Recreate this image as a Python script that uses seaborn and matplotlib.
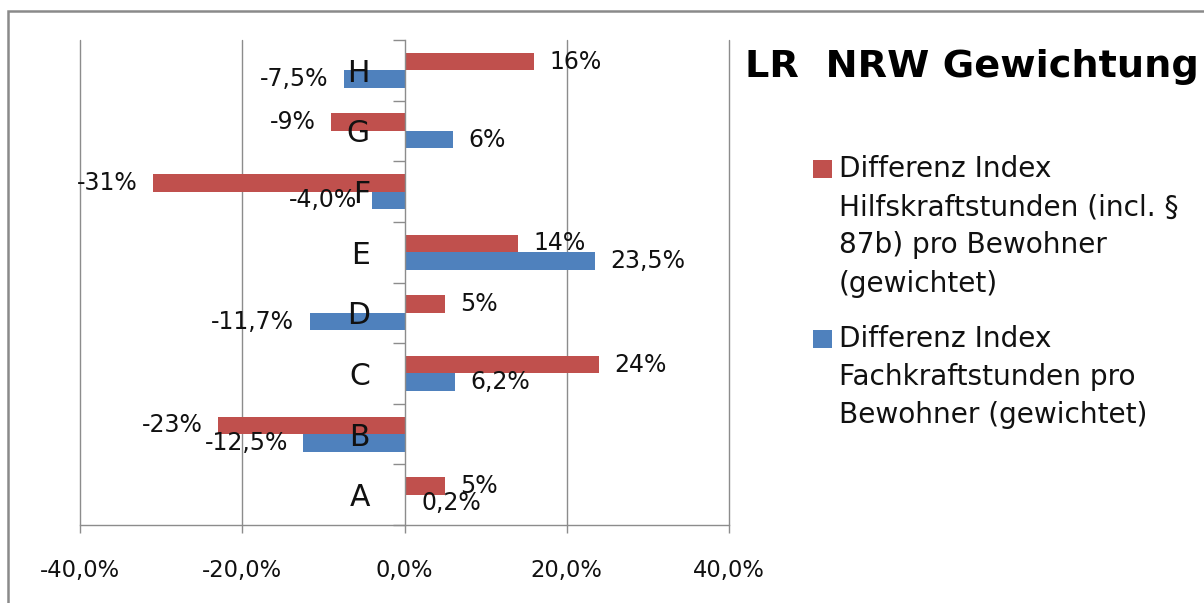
import numpy as np
import pandas as pd
import matplotlib
matplotlib.use("Agg")
import matplotlib.pyplot as plt
from matplotlib.patches import Rectangle
import seaborn as sns

# Categories (bottom to top on the chart) and the two series in percent
categories = ["A", "B", "C", "D", "E", "F", "G", "H"]
hilfskraft = [5, -23, 24, 5, 14, -31, -9, 16]
fachkraft = [0.2, -12.5, 6.2, -11.7, 23.5, -4.0, 6.0, -7.5]
fachkraft_decimals = [1, 1, 1, 1, 1, 1, 0, 1]
hilfskraft_decimals = [0, 0, 0, 0, 0, 0, 0, 0]

series_names = [
    "Differenz Index Hilfskraftstunden (incl. § 87b) pro Bewohner (gewichtet)",
    "Differenz Index Fachkraftstunden pro Bewohner (gewichtet)",
]
legend_lines = [
    ["Differenz Index", "Hilfskraftstunden (incl. §", "87b) pro Bewohner", "(gewichtet)"],
    ["Differenz Index", "Fachkraftstunden pro", "Bewohner (gewichtet)"],
]
colors = ["#C0504D", "#4F81BD"]
x_ticks = [-40, -20, 0, 20, 40]
title = "LR  NRW Gewichtung"

GRID = "#8c8c8c"
TEXT = "#111111"
W, H = 1204, 603

sns.set_theme(style="white")
plt.rcParams["font.family"] = ["DejaVu Sans"]

df = pd.DataFrame({
    "cat": categories * 2,
    "value": hilfskraft + fachkraft,
    "series": [series_names[0]] * len(categories) + [series_names[1]] * len(categories),
})

fig = plt.figure(figsize=(W / 100, H / 100), dpi=100)
ax = fig.add_axes([80 / W, 1 - 525 / H, (729 - 80) / W, (525 - 40) / H])

order = categories[::-1]  # H on top
sns.barplot(data=df, x="value", y="cat", hue="series", order=order,
            hue_order=series_names, palette=colors, saturation=1,
            width=0.577, orient="h", errorbar=None, linewidth=0,
            legend=False, ax=ax)

ax.set_xlim(x_ticks[0], x_ticks[-1])
ax.set_xlabel("")
ax.set_ylabel("")

# Vertical gridlines beneath the bars
for xv in x_ticks:
    if xv != 0:
        ax.axvline(xv, color=GRID, lw=1.0, zorder=0, clip_on=False)
ax.grid(False)

ax.set_xticks(x_ticks)
ax.set_xticklabels([f"{v:.1f}%".replace(".", ",") for v in x_ticks], fontsize=16.3)
ax.tick_params(axis="x", length=5.8, width=1, color=GRID, pad=18.5, bottom=True,
               direction="out", labelcolor=TEXT)

# Category axis sits on the zero line
for s in ["top", "right"]:
    ax.spines[s].set_visible(False)
ax.spines["left"].set_position(("data", 0))
for s in ["left", "bottom"]:
    ax.spines[s].set_color(GRID)
    ax.spines[s].set_linewidth(1.0)
ax.set_axisbelow(False)

ax.set_yticks(np.arange(-0.5, len(categories)), minor=True)
ax.tick_params(axis="y", which="major", length=0, pad=25, labelsize=21.5, labelcolor=TEXT)
ax.tick_params(axis="y", which="minor", length=8.6, width=1, color=GRID, direction="out", left=True)

# Value labels at the bar ends
def fmt(v, d):
    return f"{v:.{d}f}%".replace(".", ",")

value_sets = [(hilfskraft, hilfskraft_decimals), (fachkraft, fachkraft_decimals)]
for cont, (vals, decs) in zip(ax.containers, value_sets):
    lookup = {c: fmt(v, d) for c, v, d in zip(categories, vals, decs)}
    ax.bar_label(cont, labels=[lookup[c] for c in order], padding=11,
                 fontsize=17, color=TEXT)

# Title
fig.text(745 / W, 1 - 77 / H, title, fontsize=27.5, fontweight="bold",
         ha="left", va="baseline", color="black")

# Legend
entry_baselines = [[177.3, 215.5, 253.5, 291.7], [347.3, 385.3, 423.3]]
square_tops = [160, 330]
for lines, bases, top, col in zip(legend_lines, entry_baselines, square_tops, colors):
    fig.patches.append(Rectangle((813 / W, 1 - (top + 17.5) / H), 19 / W, 17.5 / H,
                                 transform=fig.transFigure, facecolor=col,
                                 edgecolor="none"))
    for line, b in zip(lines, bases):
        fig.text(839 / W, 1 - b / H, line, fontsize=20.2, ha="left",
                 va="baseline", color=TEXT)

# Chart area frame
fig.patches.append(Rectangle((7.5 / W, -0.05), 1.2, 1.05 - 11 / H,
                             transform=fig.transFigure, fill=False,
                             edgecolor="#8a8a8a", linewidth=1.8))

fig.savefig("out.png", dpi=100)
